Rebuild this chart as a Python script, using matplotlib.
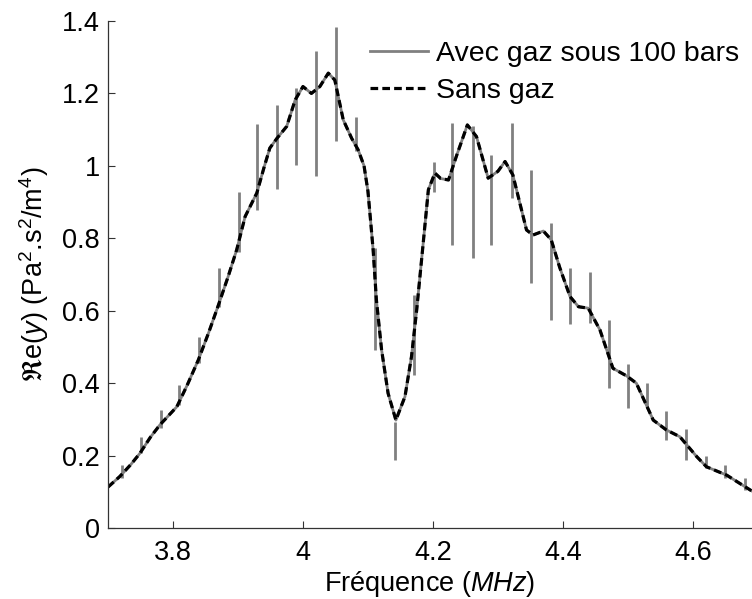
import numpy as np
import matplotlib
matplotlib.use("Agg")
import matplotlib.pyplot as plt

plt.rcParams['font.family'] = ['Liberation Sans', 'DejaVu Sans']
plt.rcParams['mathtext.fontset'] = 'custom'
plt.rcParams['mathtext.rm'] = 'Liberation Sans'
plt.rcParams['mathtext.it'] = 'Liberation Sans:italic'
plt.rcParams['mathtext.fallback'] = 'stixsans'

# smooth response (MHz, Pa^2.s^2/m^4)
freq = [3.700, 3.718, 3.735, 3.749, 3.765, 3.780, 3.806, 3.822, 3.839, 3.855,
        3.870, 3.885, 3.898, 3.911, 3.929, 3.940, 3.949, 3.960, 3.975, 3.988,
        4.000, 4.013, 4.026, 4.039, 4.049, 4.062, 4.075, 4.085, 4.094, 4.100,
        4.104, 4.108, 4.113, 4.121, 4.131, 4.143, 4.157, 4.167, 4.175, 4.185,
        4.193, 4.203, 4.212, 4.224, 4.236, 4.253, 4.267, 4.285, 4.300, 4.311,
        4.323, 4.344, 4.354, 4.370, 4.382, 4.395, 4.411, 4.424, 4.439, 4.457,
        4.477, 4.498, 4.513, 4.539, 4.559, 4.580, 4.606, 4.621, 4.652, 4.690]
re_sans_gaz = [0.113, 0.142, 0.175, 0.206, 0.250, 0.285, 0.335, 0.395, 0.464, 0.540,
               0.616, 0.695, 0.768, 0.860, 0.925, 0.995, 1.049, 1.076, 1.109, 1.182,
               1.219, 1.200, 1.219, 1.256, 1.237, 1.127, 1.076, 1.044, 1.000, 0.930,
               0.850, 0.768, 0.630, 0.492, 0.372, 0.298, 0.363, 0.473, 0.602, 0.786,
               0.934, 0.980, 0.965, 0.961, 1.026, 1.113, 1.081, 0.966, 0.985, 1.012,
               0.975, 0.823, 0.809, 0.820, 0.796, 0.720, 0.639, 0.611, 0.607, 0.547,
               0.441, 0.420, 0.400, 0.298, 0.271, 0.252, 0.197, 0.169, 0.146, 0.103]

# gas resonances: narrow spikes on the "avec gaz" curve
spike_freq = [3.721, 3.751, 3.781, 3.810, 3.840, 3.871, 3.901, 3.930, 3.960, 3.990,
              4.020, 4.051, 4.081, 4.111, 4.142, 4.171, 4.201, 4.230, 4.261, 4.290,
              4.321, 4.351, 4.381, 4.411, 4.441, 4.471, 4.500, 4.530, 4.559, 4.590,
              4.620, 4.649, 4.680]
spike_top = [0.174, 0.252, 0.326, 0.395, 0.528, 0.717, 0.929, 1.116, 1.168, 1.215,
             1.318, 1.383, 1.134, 0.773, 0.294, 0.644, 1.010, 1.118, 1.109, 1.030,
             1.118, 0.989, 0.843, 0.717, 0.708, 0.575, 0.452, 0.401, 0.323, 0.273,
             0.199, 0.174, 0.137]
spike_bot = [0.138, 0.207, 0.276, 0.340, 0.456, 0.611, 0.763, 0.877, 0.935, 1.003,
             0.972, 1.070, 1.040, 0.492, 0.188, 0.423, 0.929, 0.782, 0.745, 0.782,
             0.911, 0.676, 0.575, 0.564, 0.565, 0.386, 0.332, 0.332, 0.243, 0.188,
             0.165, 0.139, 0.105]

fig = plt.figure(figsize=(7.52, 5.99), dpi=100)
ax = fig.add_axes([108 / 752, 71 / 599, 1 - 108 / 752, (528 - 21) / 599])

gray = '#808080'
ax.plot(freq, re_sans_gaz, color=gray, lw=2.0, label='Avec gaz sous 100 bars')
ax.vlines(spike_freq, spike_bot, spike_top, color=gray, lw=2.0)
ax.plot(freq, re_sans_gaz, color='black', lw=2.3, linestyle=(0, (2.4, 1.3)),
        label='Sans gaz')

ax.set_xlim(3.7, 4.691)
ax.set_ylim(0, 1.4)
ax.set_xticks([3.8, 4.0, 4.2, 4.4, 4.6])
ax.set_xticklabels(['3.8', '4', '4.2', '4.4', '4.6'])
ax.set_yticks([0, 0.2, 0.4, 0.6, 0.8, 1.0, 1.2, 1.4])
ax.set_yticklabels(['0', '0.2', '0.4', '0.6', '0.8', '1', '1.2', '1.4'])

for side in ['top', 'right']:
    ax.spines[side].set_visible(False)
for side in ['left', 'bottom']:
    ax.spines[side].set_linewidth(0.9)
    ax.spines[side].set_color('#333333')
ax.tick_params(direction='in', length=5, width=0.8, color='#333333',
               labelsize=19.5, labelcolor='black')
ax.tick_params(axis='x', pad=9)
ax.tick_params(axis='y', pad=6)

ax.set_xlabel(r'Fréquence ($MHz$)', fontsize=19.5, labelpad=1.5)
ax.set_ylabel(r'$\Re$e($y$) (Pa$^2$.s$^2$/m$^4$)', fontsize=19.5, labelpad=8)

ax.legend(loc='upper left', bbox_to_anchor=(370 / 752, 1 - 41 / 599),
          bbox_transform=fig.transFigure, frameon=False, fontsize=20.5,
          handlelength=2.05, handletextpad=0.28, labelspacing=0.4,
          borderpad=0, borderaxespad=0)

fig.savefig('out.png', dpi=100)
